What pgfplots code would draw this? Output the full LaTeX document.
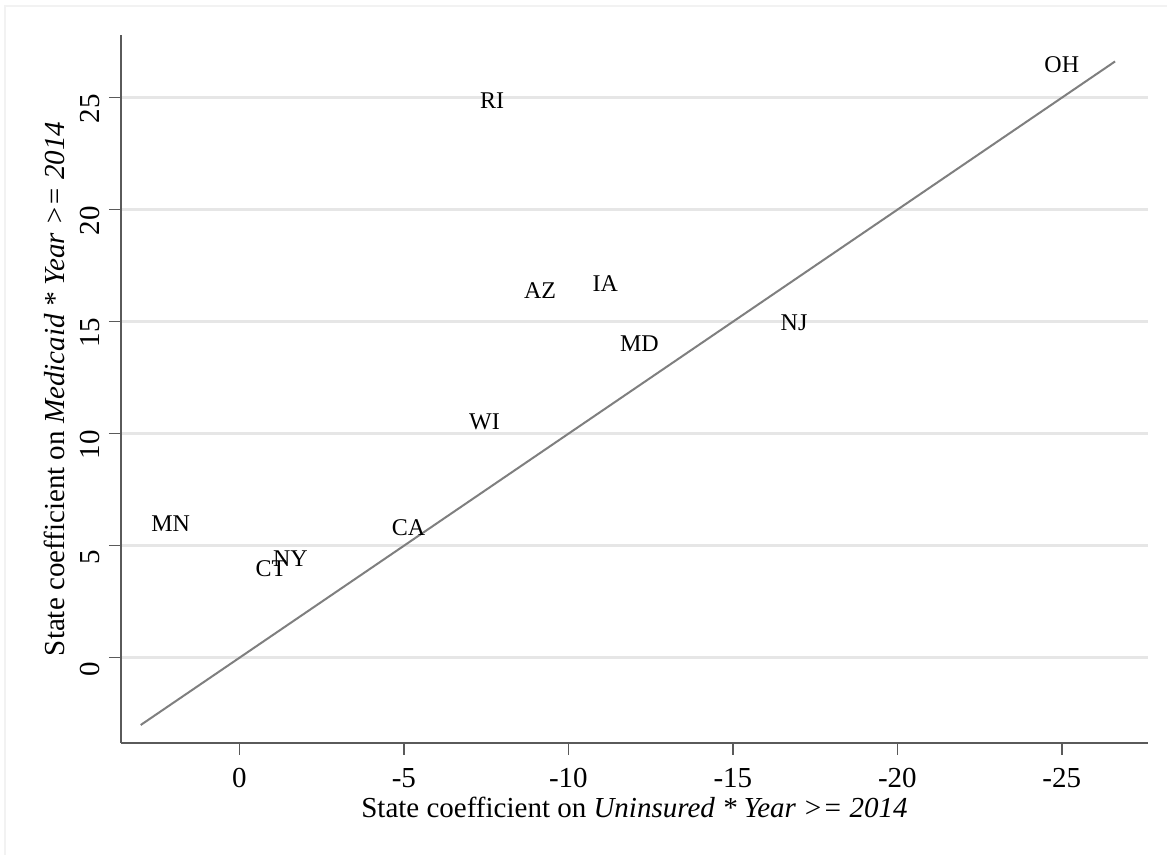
\documentclass[border=0pt]{standalone}
\usepackage{pgfplots}
\pgfplotsset{compat=1.18}
\usepackage{fontspec}
\setmainfont{Liberation Serif}
\definecolor{axisgray}{HTML}{5A5A5A}
\definecolor{gridgray}{HTML}{E6E6E6}
\definecolor{linegray}{HTML}{7F7F7F}
\definecolor{framegray}{HTML}{F2F2F2}
\begin{document}
\begin{tikzpicture}
\useasboundingbox (0,0) rectangle (583.5pt,427.5pt);
\draw[framegray, line width=0.6pt] (2.5pt,0pt) -- (2.5pt,424.5pt) -- (583.5pt,424.5pt);
\begin{axis}[
  at={(60.5pt,56.15pt)}, anchor=south west,
  scale only axis, width=513.5pt, height=353.85pt,
  x dir=reverse,
  xmin=-27.62, xmax=3.6, ymin=-3.79, ymax=27.8,
  axis x line*=bottom, axis y line*=left,
  axis line style={axisgray, line width=0.9pt, -},
  tick style={axisgray, line width=0.7pt},
  tick align=outside, major tick length=6pt,
  /pgf/number format/assume math mode=true,
  xtick={0,-5,-10,-15,-20,-25},
  xticklabels={\textrm{0},\textrm{-5},\textrm{-10},\textrm{-15},\textrm{-20},\textrm{-25}},
  ytick={0,5,10,15,20,25},
  yticklabels={\textrm{0},\textrm{5},\textrm{10},\textrm{15},\textrm{20},\textrm{25}},
  ymajorgrids, grid style={gridgray, line width=1.4pt},
  tick label style={font=\fontsize{14.5}{16}\selectfont, text=black},
  xticklabel style={anchor=north, inner sep=0pt, yshift=-6.5pt},
  yticklabel style={rotate=90, anchor=south, inner sep=0pt, xshift=-5.5pt},
  yticklabel shift=4.5pt,
  xlabel={State coefficient on \textit{Uninsured * Year >= 2014}},
  ylabel={State coefficient on \textit{Medicaid * Year >= 2014}},
  label style={font=\fontsize{14.5}{16}\selectfont, text=black},
  xlabel style={at={(axis description cs:0.5,0)}, anchor=north, yshift=-27pt, inner sep=0pt},
  ylabel style={at={(axis description cs:0,0.5)}, anchor=south, rotate=0, yshift=28pt, inner sep=0pt},
  clip=false,
]
\addplot[linegray, line width=1pt] coordinates {(3,-3) (-26.62,26.62)};
\addplot[draw=none, mark=none, nodes near coords, point meta=explicit symbolic,
  every node near coord/.style={anchor=center, inner sep=0pt, font=\fontsize{12}{14}\selectfont, text=black}]
  table[meta=label] {
x y label
-7.68 24.85 RI
-25.0 26.46 OH
-9.14 16.41 AZ
-11.12 16.71 IA
-12.16 14.0 MD
-16.86 14.96 NJ
-7.45 10.54 WI
-5.14 5.82 CA
2.09 6.0 MN
-1.55 4.41 NY
-0.96 3.99 CT
};
\end{axis}
\end{tikzpicture}
\end{document}
